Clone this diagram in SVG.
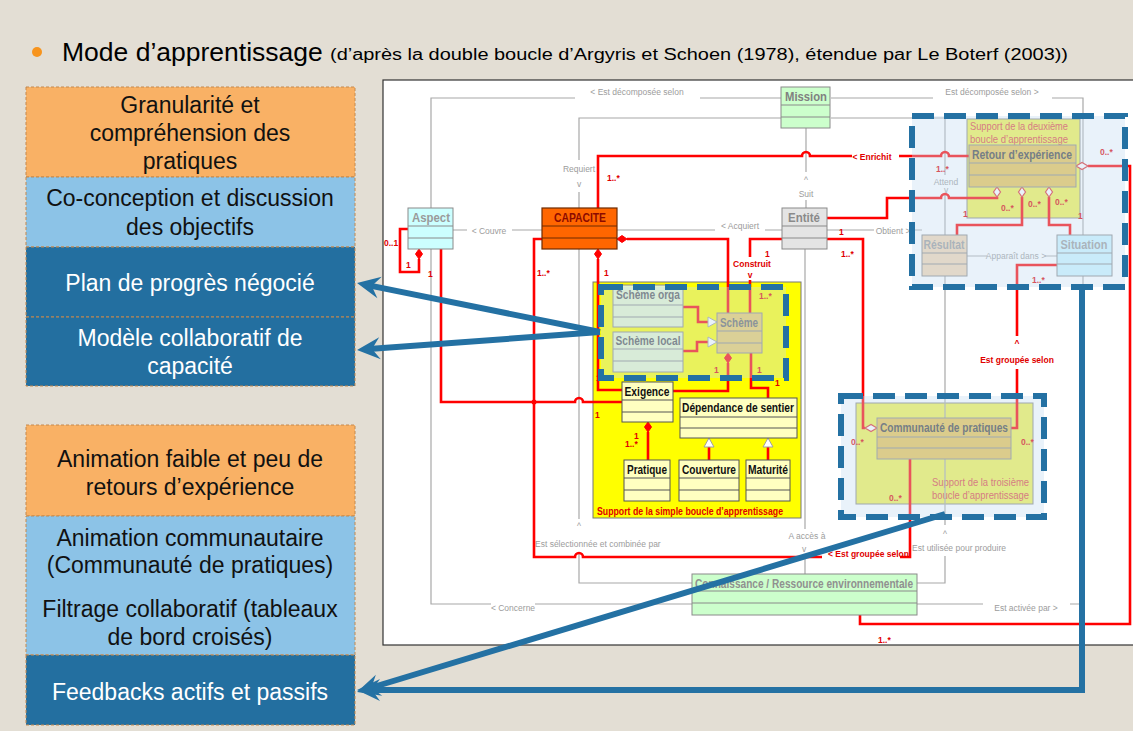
<svg xmlns="http://www.w3.org/2000/svg" width="1133" height="731" viewBox="0 0 1133 731">
<defs>
<style>
.bg{fill:#E3DED4}
.lbox{stroke:#C4894F;stroke-width:1;stroke-dasharray:3 2}
.or{fill:#F9B165}.lb{fill:#8CC3E7}.db{fill:#236FA0}
.lt{font-family:"Liberation Sans",Arial,sans-serif;font-size:23px;text-anchor:middle;fill:#111}
.lw{fill:#fff}
.cls{stroke:#8A8A8A;stroke-width:1}
.sep{stroke:#8A8A8A;stroke-width:1}
.ct{font-family:"Liberation Sans Narrow","Liberation Sans",Arial,sans-serif;font-size:13px;font-weight:bold;text-anchor:middle}
.g{fill:none;stroke:#A8A8A8;stroke-width:1.2}
.gt{font-family:"Liberation Sans Narrow","Liberation Sans",Arial,sans-serif;font-size:8.5px;fill:#9C9C9C}
.r{fill:none;stroke:#FF0000;stroke-width:2.6;stroke-linejoin:miter}
.rt{font-family:"Liberation Sans Narrow","Liberation Sans",Arial,sans-serif;font-size:8.5px;font-weight:bold;fill:#E00000}
.dfill{fill:#FF0000;stroke:#FF0000;stroke-width:1}
.dhol{fill:#FFFFFF;stroke:#E03030;stroke-width:1.2}
.tri{fill:#FFFFFF;stroke:#A0A0A0;stroke-width:1}
.ov{fill:#C6DEF1;fill-opacity:0.38}
.dash{fill:none;stroke:#2471A3;stroke-width:6;stroke-dasharray:22 10}
.ba{fill:none;stroke:#2471A3;stroke-width:6}
.sup{font-family:"Liberation Sans Narrow","Liberation Sans",Arial,sans-serif;font-size:11px;fill:#E04040}
</style>
<marker id="ah" markerUnits="userSpaceOnUse" markerWidth="26" markerHeight="24" viewBox="-24 -12 26 24" refX="-12" refY="0" orient="auto">
<path d="M0,0 L-23,-11 L-15,0 L-23,11 Z" fill="#2471A3"/>
</marker>
</defs>

<rect class="bg" x="0" y="0" width="1133" height="731"/>

<g id="title">
<circle cx="37" cy="52" r="5" fill="#F7941D"/>
<text x="62" y="61" font-family="Liberation Sans,Arial,sans-serif" font-size="26.5" fill="#000">Mode d’apprentissage</text>
<text x="330" y="60" font-family="Liberation Sans,Arial,sans-serif" font-size="16" fill="#000" textLength="738" lengthAdjust="spacingAndGlyphs">(d’après la double boucle d’Argyris et Schoen (1978), étendue par Le Boterf (2003))</text>
</g>

<g id="left-top">
<rect class="lbox or" x="26" y="87" width="329" height="90"/>
<text class="lt" x="190" y="113">Granularité et</text>
<text class="lt" x="190" y="141">compréhension des</text>
<text class="lt" x="190" y="169">pratiques</text>
<rect class="lbox lb" x="26" y="177" width="329" height="70"/>
<text class="lt" x="190" y="206">Co-conception et discussion</text>
<text class="lt" x="190" y="235">des objectifs</text>
<rect class="lbox db" x="26" y="247" width="329" height="70"/>
<text class="lt lw" x="190" y="291">Plan de progrès négocié</text>
<rect class="lbox db" x="26" y="317" width="329" height="69"/>
<text class="lt lw" x="190" y="346">Modèle collaboratif de</text>
<text class="lt lw" x="190" y="374">capacité</text>
</g>

<g id="left-bottom">
<rect class="lbox or" x="26" y="425" width="329" height="91"/>
<text class="lt" x="190" y="467">Animation faible et peu de</text>
<text class="lt" x="190" y="495">retours d’expérience</text>
<rect class="lbox lb" x="26" y="516" width="329" height="139"/>
<text class="lt" x="190" y="546">Animation communautaire</text>
<text class="lt" x="190" y="573">(Communauté de pratiques)</text>
<text class="lt" x="190" y="617">Filtrage collaboratif (tableaux</text>
<text class="lt" x="190" y="645">de bord croisés)</text>
<rect class="lbox db" x="26" y="655" width="329" height="70"/>
<text class="lt lw" x="190" y="700">Feedbacks actifs et passifs</text>
</g>

<g id="panel">
<rect x="383" y="80" width="760" height="565" fill="#FFFFFF" stroke="#333" stroke-width="1.2"/>
</g>

<g id="frames">
<rect x="593" y="282" width="208" height="236" fill="#FFFF00" stroke="#777" stroke-width="1"/>
<text x="597" y="515" font-family="Liberation Sans Narrow,Liberation Sans,Arial,sans-serif" font-size="11" font-weight="bold" fill="#E00000" textLength="186" lengthAdjust="spacingAndGlyphs">Support de la simple boucle d’apprentissage</text>
<rect x="967" y="119" width="113" height="99" fill="#F2F24E" stroke="#888" stroke-width="1"/>
<text class="sup" x="970" y="130" textLength="98" lengthAdjust="spacingAndGlyphs">Support de la deuxième</text>
<text class="sup" x="970" y="143" textLength="98" lengthAdjust="spacingAndGlyphs">boucle d’apprentissage</text>
<rect x="856" y="403" width="177" height="101" fill="#F2F24E" stroke="#888" stroke-width="1"/>
<text class="sup" x="932" y="486" textLength="97" lengthAdjust="spacingAndGlyphs">Support de la troisième</text>
<text class="sup" x="932" y="499" textLength="97" lengthAdjust="spacingAndGlyphs">boucle d’apprentissage</text>
</g>

<g id="connectors">
<path class="g" d="M431,208 V98 H575 M700,98 H781"/>
<path class="g" d="M831,98 H933 M1052,98 H1083 V604 H1070 M983,604 H917"/>
<path class="g" d="M579,208 V192 M579,160 V118 H781"/>
<path class="g" d="M806,128 V172 M806,200 V208"/>
<path class="g" d="M453,230 H467 M512,230 H542"/>
<path class="g" d="M617,230 H715 M765,230 H782"/>
<path class="g" d="M827,230 H874 M912,230 H922"/>
<path class="g" d="M831,118 H945 V175 M945,194 V525 M945,556 V583 H917"/>
<path class="g" d="M431,249 V604 H491 M535,604 H692"/>
<path class="g" d="M579,249 V519 M579,552 V583 H692"/>
<path class="g" d="M805,249 V529 M805,555 V574"/>
<path class="g" d="M967,256 H987 M1045,256 H1057"/>

<text class="gt" x="637" y="95" text-anchor="middle">&lt; Est décomposée selon</text>
<text class="gt" x="992" y="95" text-anchor="middle">Est décomposée selon &gt;</text>
<text class="gt" x="579" y="172" text-anchor="middle">Requiert</text>
<text class="gt" x="579" y="187" text-anchor="middle">v</text>
<text class="gt" x="806" y="183" text-anchor="middle">^</text>
<text class="gt" x="806" y="197" text-anchor="middle">Suit</text>
<text class="gt" x="489" y="234" text-anchor="middle">&lt; Couvre</text>
<text class="gt" x="740" y="229" text-anchor="middle">&lt; Acquiert</text>
<text class="gt" x="893" y="234" text-anchor="middle">Obtient &gt;</text>
<text class="gt" x="946" y="185" text-anchor="middle">Attend</text>
<text class="gt" x="946" y="193" text-anchor="middle">v</text>
<text class="gt" x="1016" y="259" text-anchor="middle">Apparaît dans &gt;</text>
<text class="gt" x="807" y="539" text-anchor="middle">A accès à</text>
<text class="gt" x="804" y="552" text-anchor="middle">v</text>
<text class="gt" x="579" y="529" text-anchor="middle">^</text>
<text class="gt" x="535" y="547">Est sélectionnée et combinée par</text>
<text class="gt" x="945" y="537" text-anchor="middle">^</text>
<text class="gt" x="912" y="551">Est utilisée pour produire</text>
<text class="gt" x="513" y="611" text-anchor="middle">&lt; Concerne</text>
<text class="gt" x="1026" y="611" text-anchor="middle">Est activée par &gt;</text>

<path class="r" d="M598,208 V156 H802 a4,4 0 0 1 8,0 H852 M899,156 H941 a4,4 0 0 1 8,0 H969"/>
<path class="r" d="M827,218 H887 V198 H941 a4,4 0 0 1 8,0 H997 V197"/>
<path class="r" d="M957,235 V225 H1022 V197"/>
<path class="r" d="M1070,235 V225 H1049 V197"/>
<path class="r" d="M1088,166 H1130 V624 H860 V615"/>
<path class="r" d="M1057,265 H1017 V336 M1017,369 V428 H1011"/>
<path class="r" d="M827,239 H863 V428 H865"/>
<path class="r" d="M542,239 H534 V557 H575 a4,4 0 0 1 8,0 H822 M900,557 H910 V459"/>
<path class="r" d="M408,229 H400 V272 H419 V259"/>
<path class="r" d="M441,249 V402 H575 a4,4 0 0 1 8,0 H622"/>
<circle cx="534" cy="402" r="2.5" fill="#FF0000"/>
<path class="r" d="M598,259 V390 H622"/>
<path class="r" d="M627,239 H728 V313"/>
<path class="r" d="M728,363 V391 H673"/>
<path class="r" d="M782,239 H750 V257 M750,280 V313"/>
<path class="r" d="M751,353 V388 H768 V398"/>
<path class="r" d="M683,307 H698 V322 H708"/>
<path class="r" d="M683,351 H697 V342 H708"/>
<path class="r" d="M709,460 V447"/>
<path class="r" d="M768,460 V447"/>
<path class="r" d="M648,460 V432"/>

<polygon class="dfill" points="419,249 422.5,254 419,259 415.5,254"/>
<polygon class="dfill" points="598,249 601.5,254 598,259 594.5,254"/>
<polygon class="dfill" points="617,239 622,235.5 627,239 622,242.5"/>
<polygon class="dfill" points="648,422 651.5,427 648,432 644.5,427"/>
<polygon class="dfill" points="728,353 731.5,358 728,363 724.5,358"/>
<polygon class="dhol" points="997,187 1000.5,192 997,197 993.5,192"/>
<polygon class="dhol" points="1022,187 1025.5,192 1022,197 1018.5,192"/>
<polygon class="dhol" points="1049,187 1052.5,192 1049,197 1045.5,192"/>
<polygon class="dhol" points="1076,166 1082,162.5 1088,166 1082,169.5"/>
<polygon class="dhol" points="877,428 871,424.5 865,428 871,431.5"/>
<polygon class="tri" points="717,322 708,317 708,327"/>
<polygon class="tri" points="717,342 708,337 708,347"/>
<polygon class="tri" points="709,438 704,447 714,447"/>
<polygon class="tri" points="768,438 763,447 773,447"/>

<text class="rt" x="872" y="160" text-anchor="middle" font-size="10">&lt; Enrichit</text>
<text class="rt" x="607" y="181">1..*</text>
<text class="rt" x="384" y="246">0..1</text>
<text class="rt" x="406" y="268">1</text>
<text class="rt" x="428" y="277">1</text>
<text class="rt" x="537" y="276">1..*</text>
<text class="rt" x="604" y="276">1</text>
<text class="rt" x="765" y="257">1</text>
<text class="rt" x="752" y="267" text-anchor="middle" font-size="9.5">Construit</text>
<text class="rt" x="750" y="278" text-anchor="middle">v</text>
<text class="rt" x="839" y="235">1</text>
<text class="rt" x="841" y="257">1..*</text>
<text class="rt" x="759" y="299">1..*</text>
<text class="rt" x="714" y="373">1</text>
<text class="rt" x="757" y="373">1</text>
<text class="rt" x="775" y="386">1</text>
<text class="rt" x="596" y="381">1..</text>
<text class="rt" x="595" y="418">1</text>
<text class="rt" x="634" y="439">1</text>
<text class="rt" x="625" y="447">1..*</text>
<text class="rt" x="936" y="172">1..*</text>
<text class="rt" x="1001" y="211">0..*</text>
<text class="rt" x="1028" y="207">0..*</text>
<text class="rt" x="1055" y="205">0..*</text>
<text class="rt" x="1100" y="155">0..*</text>
<text class="rt" x="963" y="217">1</text>
<text class="rt" x="1078" y="219">1</text>
<text class="rt" x="1032" y="283">1..*</text>
<text class="rt" x="1017" y="346" text-anchor="middle">^</text>
<text class="rt" x="1017" y="363" text-anchor="middle">Est groupée selon</text>
<text class="rt" x="851" y="445">0..*</text>
<text class="rt" x="1021" y="445">0..*</text>
<text class="rt" x="889" y="501">0..*</text>
<text class="rt" x="828" y="557">&lt; Est groupée selon</text>
<text class="rt" x="878" y="643">1..*</text>
</g>

<g id="mission">
<rect class="cls" x="781" y="87" width="49" height="41" fill="#CCFFCC"/>
<line class="sep" x1="781" y1="105" x2="830" y2="105"/><line class="sep" x1="781" y1="117" x2="830" y2="117"/>
<text class="ct" x="806" y="101" fill="#808080" textLength="42" lengthAdjust="spacingAndGlyphs">Mission</text>
</g>
<g id="aspect">
<rect class="cls" x="408" y="208" width="45" height="41" fill="#CCFFFF"/>
<line class="sep" x1="408" y1="226" x2="453" y2="226"/><line class="sep" x1="408" y1="238" x2="453" y2="238"/>
<text class="ct" x="431" y="222" fill="#9A9A9A" textLength="38" lengthAdjust="spacingAndGlyphs">Aspect</text>
</g>
<g id="capacite">
<rect x="542" y="208" width="75" height="41" fill="#FF6600" stroke="#6E2A00" stroke-width="1.2"/>
<line x1="542" y1="226" x2="617" y2="226" stroke="#6E2A00"/><line x1="542" y1="238" x2="617" y2="238" stroke="#6E2A00"/>
<text class="ct" x="580" y="222" fill="#8B0A00" textLength="52" lengthAdjust="spacingAndGlyphs">CAPACITE</text>
</g>
<g id="entite">
<rect class="cls" x="782" y="208" width="45" height="41" fill="#E4E4E4"/>
<line class="sep" x1="782" y1="226" x2="827" y2="226"/><line class="sep" x1="782" y1="238" x2="827" y2="238"/>
<text class="ct" x="804" y="222" fill="#8A8A8A" textLength="32" lengthAdjust="spacingAndGlyphs">Entité</text>
</g>
<g id="retour">
<rect class="cls" x="969" y="145" width="107" height="42" fill="#E8C24E" stroke="#666"/>
<line class="sep" x1="969" y1="163" x2="1076" y2="163"/><line class="sep" x1="969" y1="175" x2="1076" y2="175"/>
<text class="ct" x="1022" y="159" fill="#444" textLength="100" lengthAdjust="spacingAndGlyphs">Retour d’expérience</text>
</g>
<g id="resultat">
<rect class="cls" x="922" y="235" width="45" height="41" fill="#F3D6B2"/>
<line class="sep" x1="922" y1="253" x2="967" y2="253"/><line class="sep" x1="922" y1="264" x2="967" y2="264"/>
<text class="ct" x="944" y="249" fill="#9A9A9A" textLength="41" lengthAdjust="spacingAndGlyphs">Résultat</text>
</g>
<g id="situation">
<rect class="cls" x="1057" y="235" width="55" height="41" fill="#CCF4FF"/>
<line class="sep" x1="1057" y1="253" x2="1112" y2="253"/><line class="sep" x1="1057" y1="264" x2="1112" y2="264"/>
<text class="ct" x="1084" y="249" fill="#9A9A9A" textLength="47" lengthAdjust="spacingAndGlyphs">Situation</text>
</g>
<g id="scheme-orga">
<rect class="cls" x="613" y="285" width="70" height="42" fill="#E4F4C8"/>
<line class="sep" x1="613" y1="305" x2="683" y2="305"/><line class="sep" x1="613" y1="317" x2="683" y2="317"/>
<text class="ct" x="648" y="299" fill="#555" textLength="64" lengthAdjust="spacingAndGlyphs">Schème orga</text>
</g>
<g id="scheme-local">
<rect class="cls" x="613" y="332" width="70" height="40" fill="#E4F4C8"/>
<line class="sep" x1="613" y1="349" x2="683" y2="349"/><line class="sep" x1="613" y1="361" x2="683" y2="361"/>
<text class="ct" x="648" y="345" fill="#555" textLength="65" lengthAdjust="spacingAndGlyphs">Schème local</text>
</g>
<g id="scheme">
<rect class="cls" x="717" y="313" width="45" height="40" fill="#E8C860"/>
<line class="sep" x1="717" y1="331" x2="762" y2="331"/><line class="sep" x1="717" y1="343" x2="762" y2="343"/>
<text class="ct" x="739" y="327" fill="#666" textLength="38" lengthAdjust="spacingAndGlyphs">Schème</text>
</g>
<g id="exigence">
<rect x="622" y="382" width="51" height="40" fill="#FFFFC0" stroke="#555" stroke-width="1"/>
<line x1="622" y1="400" x2="673" y2="400" stroke="#555"/><line x1="622" y1="412" x2="673" y2="412" stroke="#555"/>
<text class="ct" x="647" y="396" fill="#111" textLength="45" lengthAdjust="spacingAndGlyphs">Exigence</text>
</g>
<g id="dependance">
<rect x="680" y="398" width="117" height="40" fill="#FFFFC0" stroke="#555" stroke-width="1"/>
<line x1="680" y1="417" x2="797" y2="417" stroke="#555"/><line x1="680" y1="428" x2="797" y2="428" stroke="#555"/>
<text class="ct" x="738" y="412" fill="#111" textLength="112" lengthAdjust="spacingAndGlyphs">Dépendance de sentier</text>
</g>
<g id="pratique">
<rect x="624" y="460" width="46" height="41" fill="#FFFFC0" stroke="#555" stroke-width="1"/>
<line x1="624" y1="478" x2="670" y2="478" stroke="#555"/><line x1="624" y1="490" x2="670" y2="490" stroke="#555"/>
<text class="ct" x="647" y="474" fill="#111" textLength="40" lengthAdjust="spacingAndGlyphs">Pratique</text>
</g>
<g id="couverture">
<rect x="679" y="460" width="60" height="41" fill="#FFFFC0" stroke="#555" stroke-width="1"/>
<line x1="679" y1="478" x2="739" y2="478" stroke="#555"/><line x1="679" y1="490" x2="739" y2="490" stroke="#555"/>
<text class="ct" x="709" y="474" fill="#111" textLength="54" lengthAdjust="spacingAndGlyphs">Couverture</text>
</g>
<g id="maturite">
<rect x="746" y="460" width="44" height="41" fill="#FFFFC0" stroke="#555" stroke-width="1"/>
<line x1="746" y1="478" x2="790" y2="478" stroke="#555"/><line x1="746" y1="490" x2="790" y2="490" stroke="#555"/>
<text class="ct" x="768" y="474" fill="#111" textLength="40" lengthAdjust="spacingAndGlyphs">Maturité</text>
</g>
<g id="communaute">
<rect class="cls" x="877" y="418" width="134" height="41" fill="#E8C24E" stroke="#666"/>
<line class="sep" x1="877" y1="437" x2="1011" y2="437"/><line class="sep" x1="877" y1="448" x2="1011" y2="448"/>
<text class="ct" x="944" y="432" fill="#444" textLength="128" lengthAdjust="spacingAndGlyphs">Communauté de pratiques</text>
</g>
<g id="connaissance">
<rect class="cls" x="692" y="574" width="225" height="41" fill="#CCFFCC"/>
<line class="sep" x1="692" y1="591" x2="917" y2="591"/><line class="sep" x1="692" y1="603" x2="917" y2="603"/>
<text class="ct" x="804" y="588" fill="#909090" textLength="218" lengthAdjust="spacingAndGlyphs">Connaissance / Ressource environnementale</text>
</g>

<g id="loop-boxes">
<rect class="ov" x="912" y="116" width="213" height="171"/>
<rect class="dash" x="912" y="116" width="213" height="171"/>
<rect class="ov" x="601" y="287" width="185" height="91"/>
<rect class="dash" x="601" y="287" width="185" height="91"/>
<rect class="ov" x="841" y="396" width="203" height="121"/>
<rect class="dash" x="841" y="396" width="203" height="121"/>
</g>

<g id="blue-arrows">
<line class="ba" x1="600" y1="332" x2="368.8" y2="285.4" marker-end="url(#ah)"/>
<line class="ba" x1="600" y1="332" x2="369" y2="349.1" marker-end="url(#ah)"/>
<line class="ba" x1="945" y1="514" x2="368.5" y2="688.5" marker-end="url(#ah)"/>
<polyline class="ba" points="1082,287 1082,690 369,690" marker-end="url(#ah)"/>
</g>
</svg>
